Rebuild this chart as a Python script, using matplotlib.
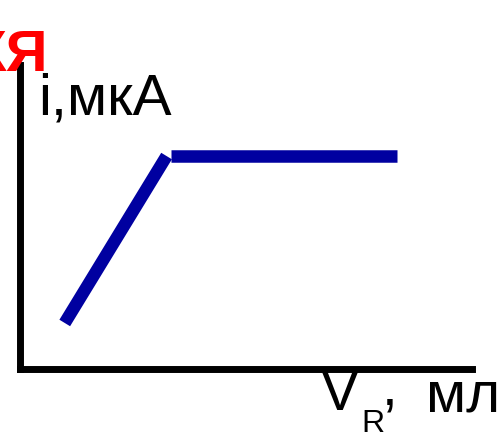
import matplotlib
matplotlib.use("Agg")
import matplotlib.pyplot as plt

plt.rcParams['font.family'] = ['Liberation Sans', 'DejaVu Sans']

# isotherm: rising part and plateau
rise_v = [1.0, 3.25]
rise_i = [1.5, 7.0]
plateau_v = [3.35, 8.35]
plateau_i = [7.0, 7.0]

title_tail = "КЯ"
ylabel = "i,мкА"
xlabel_main = "V"
xlabel_sub = "R"
xlabel_comma = ","
xlabel_unit = "мл"

W, H = 499, 437
fig = plt.figure(figsize=(W / 100, H / 100), dpi=100)
fig.text(48 / W, 1 - 71 / H, title_tail, color='red', fontsize=42,
         fontweight='bold', ha='right', va='baseline', zorder=0)

ax = fig.add_axes([19.5 / W, 1 - 368.5 / H, 452.5 / W, 303.5 / H])
ax.patch.set_alpha(0)
ax.set_xlim(0, 10)
ax.set_ylim(0, 10)
for s in ['top', 'right']:
    ax.spines[s].set_visible(False)
for s in ['left', 'bottom']:
    ax.spines[s].set_linewidth(5)
    ax.spines[s].set_capstyle('projecting')
ax.set_xticks([])
ax.set_yticks([])

ax.plot(rise_v, rise_i, color='#0000a0', lw=9, solid_capstyle='butt')
ax.plot(plateau_v, plateau_i, color='#0000a0', lw=9, solid_capstyle='butt')

fig.text(38 / W, 1 - 115 / H, ylabel, fontsize=42, ha='left', va='baseline')
fig.text(321 / W, 1 - 410 / H, xlabel_main, fontsize=41, ha='left', va='baseline')
fig.text(361 / W, 1 - 432 / H, xlabel_sub, fontsize=23, ha='left', va='baseline')
fig.text(382 / W, 1 - 404 / H, xlabel_comma, fontsize=41, ha='left', va='baseline')
fig.text(426 / W, 1 - 412 / H, xlabel_unit, fontsize=42, ha='left', va='baseline')

fig.savefig("out.png", dpi=100)
